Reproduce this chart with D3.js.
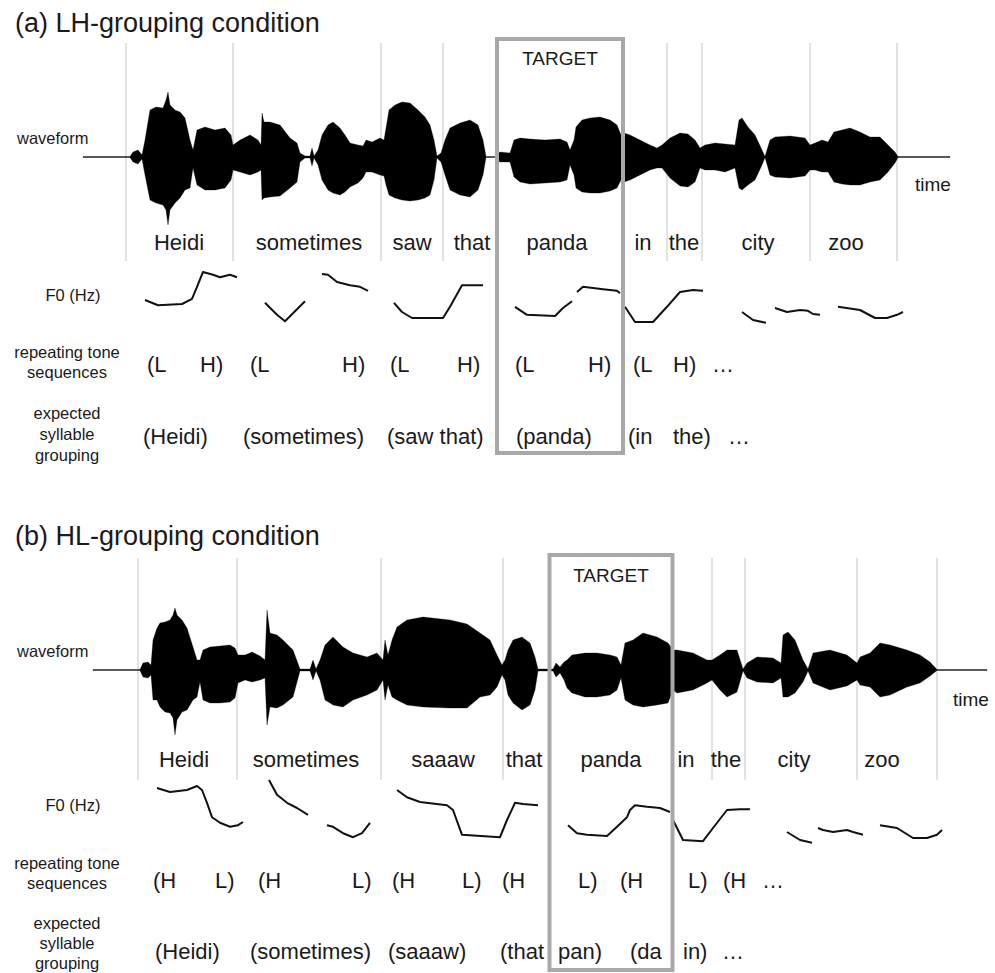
<!DOCTYPE html>
<html>
<head>
<meta charset="utf-8">
<script src="https://cdn.jsdelivr.net/npm/d3@7"></script>
<style>
  body { margin: 0; background: #fff; }
  text { font-family: "Liberation Sans", Arial, sans-serif; fill: #1a1a1a; }
</style>
</head>
<body>
<div id="fig"></div>
<script>
// DATA (time in ms, amplitude in arbitrary units, F0 in Hz)

const wordsA = ["Heidi", "sometimes", "saw", "that", "panda", "in", "the", "city", "zoo"];
const wordsB = ["Heidi", "sometimes", "saaaw", "that", "panda", "in", "the", "city", "zoo"];
const wordTimesA = [384, 904, 1316, 1556, 1896, 2240, 2404, 2700, 3052];
const wordTimesB = [364, 852, 1400, 1724, 2072, 2372, 2532, 2804, 3156];

// word boundaries (gray lines); the target word is boxed instead
const boundsA = [172, 600, 1192, 1440, 2336, 2476, 2908, 3256];
const boundsB = [180, 576, 1152, 1640, 2476, 2608, 3056, 3376];
const targetA = [1656, 2160];
const targetB = [1826, 2318];

// waveform envelope: [time, upper, lower]
const waveA = [[0,1,1],[188,1,1],[200,10,10],[220,14,14],[236,4,4],[248,34,36],[268,94,86],[292,100,92],[320,98,96],[332,114,106],[340,130,136],[348,104,106],[368,94,92],[388,90,82],[408,78,66],[428,34,62],[440,14,22],[456,54,56],[488,60,66],[528,54,66],[568,58,62],[592,44,46],[600,24,26],[628,34,30],[668,44,36],[700,34,30],[712,24,26],[716,88,86],[724,70,82],[748,70,80],[788,64,78],[828,38,62],[856,28,50],[868,8,10],[888,2,2],[908,2,2],[916,18,18],[924,2,2],[940,14,16],[956,44,46],[980,64,66],[1000,70,72],[1028,58,76],[1048,44,70],[1068,28,60],[1100,24,52],[1120,22,42],[1132,34,30],[1156,30,30],[1188,38,36],[1204,34,38],[1212,58,56],[1224,94,76],[1248,104,82],[1276,110,86],[1308,108,88],[1340,94,86],[1368,80,82],[1388,64,76],[1404,34,46],[1416,2,2],[1432,8,10],[1448,34,36],[1468,58,66],[1508,68,76],[1548,74,80],[1580,64,66],[1600,34,36],[1612,1,1],[1648,1,1],[1668,10,10],[1708,8,10],[1724,34,40],[1748,38,50],[1788,36,54],[1848,34,52],[1908,36,50],[1936,30,46],[1948,14,16],[1964,34,36],[1972,60,62],[1996,74,70],[2028,78,72],[2068,80,72],[2108,74,68],[2136,64,62],[2152,44,46],[2164,48,50],[2188,44,46],[2228,34,36],[2268,24,26],[2296,18,22],[2316,24,22],[2348,38,42],[2388,48,58],[2420,46,60],[2448,34,50],[2468,18,22],[2488,24,26],[2528,28,26],[2568,26,30],[2608,24,22],[2624,74,62],[2636,78,66],[2660,60,56],[2688,44,46],[2716,14,16],[2728,1,1],[2748,34,36],[2768,40,40],[2828,42,42],[2888,38,38],[2908,24,26],[2928,28,26],[2956,34,30],[2980,30,30],[3004,50,50],[3036,54,54],[3068,58,56],[3108,50,56],[3148,40,50],[3188,40,46],[3220,24,30],[3248,10,12],[3260,1,1],[3468,1,1]];

const waveB = [[0,1,1],[188,1,1],[200,14,14],[220,16,16],[232,10,10],[240,60,60],[256,84,60],[268,94,74],[288,96,84],[308,100,86],[320,110,96],[328,124,130],[336,110,100],[356,100,84],[376,84,80],[400,46,60],[416,20,54],[428,20,24],[440,40,60],[468,46,66],[508,48,66],[548,50,64],[568,44,56],[580,30,26],[608,30,20],[636,36,24],[668,28,20],[688,20,16],[696,120,110],[708,74,74],[736,70,76],[760,60,70],[800,40,54],[828,2,2],[868,2,2],[880,20,20],[892,2,2],[908,20,20],[928,50,60],[948,60,66],[960,66,70],[1000,46,74],[1040,34,60],[1096,26,50],[1136,34,40],[1160,20,20],[1168,60,60],[1180,30,30],[1196,60,54],[1216,86,60],[1256,100,70],[1320,106,74],[1428,100,76],[1496,92,76],[1548,74,54],[1588,60,50],[1616,30,34],[1636,10,10],[1648,20,20],[1660,40,50],[1680,60,66],[1716,66,80],[1748,54,70],[1768,26,40],[1780,2,2],[1840,2,2],[1852,14,14],[1868,6,6],[1884,16,20],[1896,20,36],[1916,30,46],[1968,34,54],[2016,34,54],[2068,30,50],[2096,26,40],[2112,10,16],[2128,54,60],[2160,60,70],[2200,74,74],[2256,66,70],[2300,54,66],[2320,40,40],[2336,40,46],[2400,34,40],[2456,20,26],[2476,20,20],[2508,30,40],[2536,40,54],[2576,40,44],[2600,2,2],[2616,14,16],[2656,26,24],[2720,24,26],[2752,14,16],[2760,70,54],[2780,76,54],[2808,60,46],[2840,20,24],[2860,2,2],[2880,34,26],[2948,40,40],[3016,30,32],[3056,14,20],[3068,26,30],[3108,34,34],[3148,54,54],[3188,50,50],[3256,40,34],[3308,30,26],[3348,16,12],[3376,1,1],[3576,1,1]];

// F0 contours: one array of [time, Hz] per voiced stretch
const f0A = [
  [[248,225],[300,212],[396,215],[436,228],[456,258],[480,295],[520,288],[548,282],[588,288],[616,282]],
  [[728,218],[776,188],[808,172],[840,192],[888,222]],
  [[956,290],[980,288],[1016,270],[1068,262],[1108,258],[1140,248]],
  [[1244,218],[1276,195],[1316,180],[1440,180],[1468,208],[1516,262],[1600,262]],
  [[1728,208],[1776,188],[1888,185],[1920,205],[1956,222]],
  [[1976,245],[2000,258],[2080,252],[2136,248],[2148,242]],
  [[2168,208],[2208,170],[2280,170],[2336,208],[2388,245],[2440,250],[2480,248]],
  [[2636,195],[2680,175],[2732,168]],
  [[2768,205],[2816,195],[2868,200],[2900,198],[2920,190],[2948,188]],
  [[3020,208],[3108,200],[3168,180],[3216,180],[3256,188],[3280,195]]
];
const f0B = [
  [[256,305],[308,295],[376,300],[416,310],[436,300],[456,268],[476,232],[508,218],[548,208],[580,212],[600,220]],
  [[704,325],[736,288],[776,268],[816,255],[860,238]],
  [[936,212],[960,208],[1000,192],[1040,182],[1076,192],[1108,218]],
  [[1216,300],[1256,282],[1308,270],[1416,262],[1440,250],[1476,188],[1628,182],[1656,225],[1688,268],[1720,265],[1780,262]],
  [[1900,212],[1936,192],[1976,188],[2056,185],[2096,208],[2136,232],[2148,250],[2168,262],[2216,258],[2268,255],[2308,245]],
  [[2320,225],[2360,175],[2440,172],[2480,205],[2536,250],[2588,252],[2628,252]],
  [[2776,195],[2828,175],[2876,168]],
  [[2900,205],[2920,200],[2960,195],[3016,200],[3040,195],[3080,188]],
  [[3148,212],[3216,205],[3280,180],[3336,180],[3376,188],[3396,200]]
];

// tone and grouping annotations: [label, start time]
const tonesA = [["(L",256],["H)",468],["(L",668],["H)",1036],["(L",1228],["H)",1496],["(L",1728],["H)",2020],["(L",2200],["H)",2360],["\u2026",2516]];
const groupA = [["(Heidi)",240],["(sometimes)",640],["(saw that)",1216],["(panda)",1732],["(in",2180],["the)",2360],["\u2026",2580]];
const tonesB = [["(H",240],["L)",488],["(H",660],["L)",1036],["(H",1196],["L)",1476],["(H",1636],["L)",1940],["(H",2108],["L)",2380],["(H",2520],["\u2026",2676]];
const groupB = [["(Heidi)",248],["(sometimes)",628],["(saaaw)",1180],["(that",1628],["pan)",1860],["(da",2148],["in)",2360],["\u2026",2516]];

// LAYOUT

const width = 995, height = 973;

const panels = [
  { title: "(a) LH-grouping condition", titleY: 32,
    dur: 3468, x0: 83, x1: 950,
    lineTop: 43, lineBot: 261, boxTop: 39, boxBot: 453, targetY: 65,
    waveY: 157, timeX: 915, timeY: 191, wordY: 250,
    f0Y: 301, f0Range: [330, 270], toneY: 372, sideTone: [358, 378],
    groupY: 444, sideGroup: [419, 440, 461],
    words: wordsA, wordTimes: wordTimesA, bounds: boundsA, target: targetA,
    wave: waveA, f0: f0A, tones: tonesA, groups: groupA },
  { title: "(b) HL-grouping condition", titleY: 545,
    dur: 3576, x0: 93, x1: 987,
    lineTop: 558, lineBot: 780, boxTop: 555, boxBot: 970, targetY: 582,
    waveY: 670, timeX: 953, timeY: 706, wordY: 767,
    f0Y: 811, f0Range: [850, 790], toneY: 888, sideTone: [869, 889],
    groupY: 959, sideGroup: [929, 949, 969],
    words: wordsB, wordTimes: wordTimesB, bounds: boundsB, target: targetB,
    wave: waveB, f0: f0B, tones: tonesB, groups: groupB }
];

const svg = d3.select("#fig")
  .append("svg")
  .attr("width", width)
  .attr("height", height);

panels.forEach(function(p) {
  const g = svg.append("g");
  const x = d3.scaleLinear().domain([0, p.dur]).range([p.x0, p.x1]);
  const amp = d3.scaleLinear().domain([-120, 120]).range([p.waveY + 60, p.waveY - 60]);
  const hz = d3.scaleLinear().domain([150, 300]).range(p.f0Range);

  // title
  g.append("text")
    .attr("x", 15).attr("y", p.titleY)
    .style("font-size", "27px")
    .text(p.title);

  // word boundary lines
  g.selectAll("line.bound")
    .data(p.bounds)
    .enter().append("line")
    .attr("class", "bound")
    .attr("x1", d => x(d)).attr("x2", d => x(d))
    .attr("y1", p.lineTop).attr("y2", p.lineBot)
    .attr("stroke", "#d9d9d9")
    .attr("stroke-width", 1.5);

  // waveform envelope
  const area = d3.area()
    .x(d => x(d[0]))
    .y0(d => amp(-d[2]))
    .y1(d => amp(d[1]));
  g.append("path")
    .datum(p.wave)
    .attr("d", area)
    .attr("fill", "#000")
    .attr("stroke", "#000")
    .attr("stroke-width", 0.3);

  // F0 contours
  const line = d3.line().x(d => x(d[0])).y(d => hz(d[1]));
  g.selectAll("path.f0")
    .data(p.f0)
    .enter().append("path")
    .attr("class", "f0")
    .attr("d", line)
    .attr("fill", "none")
    .attr("stroke", "#111")
    .attr("stroke-width", 2)
    .attr("stroke-linejoin", "round");

  // target box
  g.append("rect")
    .attr("x", x(p.target[0]))
    .attr("y", p.boxTop)
    .attr("width", x(p.target[1]) - x(p.target[0]))
    .attr("height", p.boxBot - p.boxTop)
    .attr("fill", "none")
    .attr("stroke", "#a8a8a8")
    .attr("stroke-width", 4);

  g.append("text")
    .attr("x", (x(p.target[0]) + x(p.target[1])) / 2)
    .attr("y", p.targetY)
    .style("text-anchor", "middle")
    .style("font-size", "19px")
    .text("TARGET");

  // side labels
  g.append("text")
    .attr("x", 17).attr("y", p.waveY - 13)
    .style("font-size", "16.5px")
    .text("waveform");

  g.append("text")
    .attr("x", p.timeX).attr("y", p.timeY)
    .style("font-size", "19px")
    .text("time");

  g.append("text")
    .attr("x", 73).attr("y", p.f0Y)
    .style("text-anchor", "middle")
    .style("font-size", "16.5px")
    .text("F0 (Hz)");

  ["repeating tone", "sequences"].forEach(function(s, i) {
    g.append("text")
      .attr("x", 67).attr("y", p.sideTone[i])
      .style("text-anchor", "middle")
      .style("font-size", "16.5px")
      .text(s);
  });

  ["expected", "syllable", "grouping"].forEach(function(s, i) {
    g.append("text")
      .attr("x", 67).attr("y", p.sideGroup[i])
      .style("text-anchor", "middle")
      .style("font-size", "16.5px")
      .text(s);
  });

  // words
  g.selectAll("text.word")
    .data(p.words)
    .enter().append("text")
    .attr("class", "word")
    .attr("x", (d, i) => x(p.wordTimes[i]))
    .attr("y", p.wordY)
    .style("text-anchor", "middle")
    .style("font-size", "22px")
    .text(d => d);

  // tone sequences
  g.selectAll("text.tone")
    .data(p.tones)
    .enter().append("text")
    .attr("class", "tone")
    .attr("x", d => x(d[1]))
    .attr("y", p.toneY)
    .style("font-size", "22px")
    .text(d => d[0]);

  // syllable grouping
  g.selectAll("text.group")
    .data(p.groups)
    .enter().append("text")
    .attr("class", "group")
    .attr("x", d => x(d[1]))
    .attr("y", p.groupY)
    .style("font-size", "22px")
    .text(d => d[0]);
});
</script>
</body>
</html>
